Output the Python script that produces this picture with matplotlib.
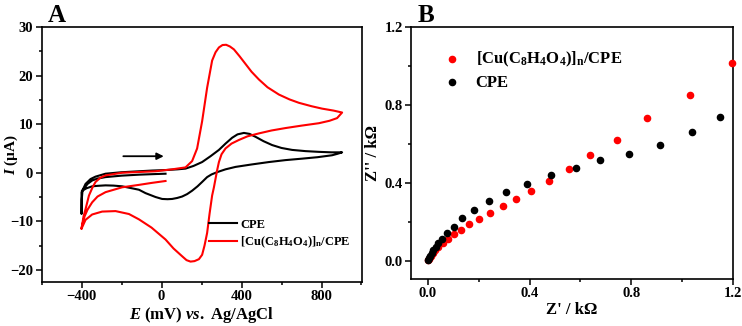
import matplotlib
matplotlib.use("Agg")
import matplotlib.pyplot as plt
from matplotlib.ticker import MultipleLocator

plt.rcParams['font.family'] = ['Liberation Serif', 'DejaVu Serif']
plt.rcParams['font.weight'] = 'bold'
plt.rcParams['axes.labelweight'] = 'bold'
plt.rcParams['mathtext.fontset'] = 'custom'
plt.rcParams['mathtext.rm'] = 'Liberation Serif:bold'
plt.rcParams['mathtext.it'] = 'Liberation Serif:italic:bold'
plt.rcParams['mathtext.bf'] = 'Liberation Serif:bold'

# --- panel A: cyclic voltammograms (E in mV, I in uA) ---
cpe_E = [20, -50, -113, -200, -280, -320, -347, -370, -388, -397, -400, -400,
         -399, -395, -380, -355, -330, -280, -200, -113, -47, 20, 80, 120, 160, 203, 245, 287,
         320, 353, 380, 412, 440, 470, 510, 553, 600, 653, 720, 787, 850, 903,
         880, 853, 780, 703, 620, 537, 450, 370, 320, 280, 250, 228, 203, 180, 153, 128, 103,
         78, 53, 30, 3, -30, -80, -113, -160, -197, -240, -280, -320, -347, -375, -397]
cpe_I = [-0.2, -0.3, -0.4, -0.6, -0.9, -1.2, -1.6, -2.3, -3.3, -3.8, -4.0, -8.5,
         -5.5, -3.6, -2.3, -1.3, -0.8, -0.2, 0.1, 0.3, 0.45, 0.55, 0.7, 0.85, 1.4, 2.2, 3.4, 4.7,
         6.0, 7.2, 7.9, 8.2, 8.0, 7.4, 6.5, 5.7, 5.1, 4.7, 4.45, 4.3, 4.2, 4.2,
         3.9, 3.6, 3.2, 2.9, 2.6, 2.2, 1.7, 1.2, 0.7, 0.15, -0.35, -0.9, -1.9, -2.8, -3.7, -4.4, -4.9,
         -5.2, -5.4, -5.45, -5.4, -5.0, -4.2, -3.5, -3.1, -2.8, -2.65, -2.6, -2.7, -2.8, -3.2, -3.7]

cu_E = [20, -50, -113, -197, -280, -320, -347, -370, -385, -397, -400,
        -390, -380, -363, -345, -330, -305, -280, -197, -113, -30, 53, 120, 153, 178, 203, 228,
        253, 270, 287, 305, 323, 342, 362, 390, 420, 450, 487, 530, 587, 640, 687, 750, 803, 860, 903,
        878, 840, 787, 700, 620, 550, 487, 430, 387, 350, 320, 300, 287, 278, 270, 262, 253, 240,
        228, 215, 203, 187, 165, 145, 125, 103, 60, 20, -50, -113, -163, -230, -297, -347, -380, -400]
cu_I = [-1.7, -2.1, -2.5, -3.0, -4.0, -4.9, -6.1, -7.6, -9.0, -10.8, -11.5,
        -9.0, -7.5, -4.7, -3.0, -1.9, -1.0, -0.55, 0.0, 0.15, 0.3, 0.7, 1.1, 2.4, 5.0, 10.6, 17.5,
        23.1, 24.8, 25.8, 26.3, 26.35, 26.0, 25.4, 24.0, 22.4, 20.8, 19.2, 17.6, 16.1, 15.1, 14.4, 13.7,
        13.2, 12.8, 12.4,
        11.25, 10.7, 10.2, 9.7, 9.2, 8.7, 8.1, 7.5, 6.75, 6.0, 5.0, 3.8, 2.2, 0.5, -1.25, -3.0, -4.7, -8.5,
        -12.4, -15.0, -16.9, -17.8, -18.2, -18.3, -18.0, -17.2, -15.6, -13.75, -11.3, -9.6, -8.5, -7.9,
        -8.0, -8.6, -9.7, -11.5]

# --- panel B: Nyquist plots (kOhm) ---
cu_zre = [0.001, 0.004, 0.008, 0.013, 0.019, 0.028, 0.041, 0.058, 0.078, 0.102, 0.131, 0.163,
          0.202, 0.243, 0.294, 0.348, 0.406, 0.475, 0.554, 0.638, 0.743, 0.863, 1.029, 1.197]
cu_zim = [0.003, 0.009, 0.017, 0.026, 0.038, 0.052, 0.072, 0.091, 0.112, 0.138, 0.158, 0.186,
          0.213, 0.244, 0.279, 0.316, 0.359, 0.407, 0.473, 0.542, 0.619, 0.732, 0.849, 1.014]
cpe_zre = [0.001, 0.005, 0.009, 0.016, 0.022, 0.031, 0.041, 0.056, 0.075, 0.101, 0.136, 0.183,
           0.240, 0.309, 0.390, 0.483, 0.581, 0.678, 0.790, 0.911, 1.038, 1.148]
cpe_zim = [0.003, 0.012, 0.022, 0.038, 0.052, 0.069, 0.089, 0.112, 0.141, 0.174, 0.217, 0.258,
           0.304, 0.351, 0.395, 0.438, 0.476, 0.516, 0.547, 0.595, 0.662, 0.736]

cu_label = r'[Cu(C$_8$H$_4$O$_4$)]$_\mathrm{n}$/CPE'

fig = plt.figure(figsize=(7.42, 3.26), dpi=100)
axA = fig.add_axes([0.056, 0.135, 0.432, 0.782])
axB = fig.add_axes([0.554, 0.144, 0.434, 0.773])

for ax in (axA, axB):
    for s in ax.spines.values():
        s.set_linewidth(1.2)
    ax.tick_params(which='both', direction='out', width=1.1, labelsize=10.5, pad=2)
    ax.tick_params(which='major', length=4)
    ax.tick_params(which='minor', length=2.5)

# panel A
axA.plot(cpe_E, cpe_I, color='black', lw=1.5, label='CPE')
axA.plot(cu_E, cu_I, color='red', lw=1.5, label=cu_label)
axA.set_xlim(-600, 1003)
axA.set_ylim(-22.5, 30)
axA.xaxis.set_major_locator(MultipleLocator(400))
axA.xaxis.set_minor_locator(MultipleLocator(200))
axA.yaxis.set_major_locator(MultipleLocator(10))
axA.yaxis.set_minor_locator(MultipleLocator(5))
axA.set_xlabel(r'$\mathit{E}$ (mV) $\mathit{vs.}$ Ag/AgCl', fontsize=12, labelpad=1)
axA.set_ylabel(r'$\mathit{I}$ (µA)', fontsize=11)
axA.yaxis.set_label_coords(-0.068, 0.5)
axA.annotate('', xy=(25, 3.4), xytext=(-205, 3.4),
             arrowprops=dict(arrowstyle='-|>', color='black', lw=1.3, mutation_scale=10))
axA.legend(loc='lower right', bbox_to_anchor=(1.0, 0.08), frameon=False, fontsize=9,
           handlelength=2.2, handletextpad=0.3, labelspacing=0.35)
axA.text(0.02, 1.02, 'A', transform=axA.transAxes, fontsize=18, fontweight='bold')

# panel B
axB.scatter(cu_zre, cu_zim, s=20, color='red', label=cu_label, zorder=3, clip_on=False)
axB.scatter(cpe_zre, cpe_zim, s=20, color='black', label='CPE', zorder=3)
axB.set_xlim(-0.066, 1.2)
axB.set_ylim(-0.095, 1.2)
axB.xaxis.set_major_locator(MultipleLocator(0.4))
axB.xaxis.set_minor_locator(MultipleLocator(0.2))
axB.yaxis.set_major_locator(MultipleLocator(0.4))
axB.yaxis.set_minor_locator(MultipleLocator(0.2))
axB.xaxis.set_major_formatter(plt.FuncFormatter(lambda v, p: f'{v:.1f}'))
axB.yaxis.set_major_formatter(plt.FuncFormatter(lambda v, p: f'{v:.1f}'))
axB.set_xlabel("Z' / k\u03a9", fontsize=12, labelpad=1)
axB.set_ylabel("Z'' / k\u03a9", fontsize=12)
axB.yaxis.set_label_coords(-0.093, 0.5)
axB.legend(loc='upper left', bbox_to_anchor=(0.03, 0.97), frameon=False, fontsize=12,
           handletextpad=0.4, labelspacing=0.35, scatterpoints=1)
axB.text(0.02, 1.02, 'B', transform=axB.transAxes, fontsize=18, fontweight='bold')

for ax in (axA, axB):
    for lab in ax.get_xticklabels() + ax.get_yticklabels():
        lab.set_fontweight('bold')

fig.savefig('out.png', dpi=100)
